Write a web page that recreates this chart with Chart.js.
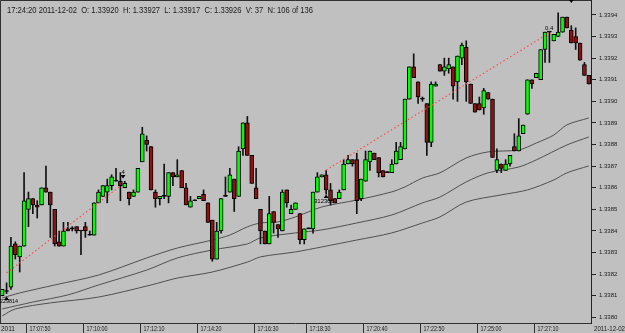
<!DOCTYPE html>
<html>
<head>
<meta charset="utf-8">
<script src="https://cdn.jsdelivr.net/npm/chart.js@4.4.1/dist/chart.umd.min.js"></script>
<style>
  html, body { margin: 0; padding: 0; background: #c0c0c0; overflow: hidden; }
  canvas { display: block; }
</style>
</head>
<body>
<canvas id="price-chart" width="625" height="333"></canvas>
<script>
// 10 second bars, oldest first
var opens = [1.33810,1.33812,1.33814,1.33834,1.33828,1.33833,1.33850,1.33855,1.33852,1.33852,
  1.33860,1.33858,1.33850,1.33835,1.33833,1.33841,1.33841,1.33842,1.33840,1.33842,
  1.33838,1.33838,1.33853,1.33856,1.33858,1.33861,1.33863,1.33863,1.33860,1.33858,
  1.33856,1.33858,1.33872,1.33882,1.33879,1.33858,1.33855,1.33856,1.33856,1.33867,
  1.33865,1.33868,1.33860,1.33851,1.33854,1.33855,1.33857,1.33853,1.33845,1.33827,
  1.33840,1.33856,1.33858,1.33864,1.33856,1.33878,1.33890,1.33875,1.33860,1.33850,
  1.33840,1.33834,1.33849,1.33843,1.33840,1.33859,1.33848,1.33850,1.33848,1.33836,
  1.33841,1.33841,1.33858,1.33865,1.33866,1.33859,1.33855,1.33855,1.33859,1.33871,
  1.33873,1.33873,1.33855,1.33863,1.33872,1.33876,1.33874,1.33868,1.33867,1.33867,
  1.33871,1.33873,1.33878,1.33901,1.33916,1.33909,1.33901,1.33899,1.33881,1.33907,
  1.33917,1.33914,1.33915,1.33916,1.33909,1.33920,1.33925,1.33908,1.33899,1.33899,
  1.33897,1.33904,1.33901,1.33868,1.33871,1.33868,1.33871,1.33879,1.33877,1.33885,
  1.33894,1.33910,1.33911,1.33910,1.33924,1.33932,1.33928,1.33930,1.33932,1.33939,
  1.33933,1.33930,1.33927,1.33917,1.33912];
var highs = [1.33813,1.33816,1.33837,1.33835,1.33833,1.33867,1.33858,1.33855,1.33854,1.33860,
  1.33870,1.33858,1.33850,1.33840,1.33844,1.33844,1.33842,1.33842,1.33840,1.33844,
  1.33840,1.33853,1.33859,1.33861,1.33864,1.33866,1.33869,1.33867,1.33863,1.33858,
  1.33859,1.33869,1.33888,1.33884,1.33879,1.33859,1.33856,1.33871,1.33867,1.33867,
  1.33873,1.33868,1.33862,1.33856,1.33854,1.33856,1.33859,1.33853,1.33845,1.33844,
  1.33855,1.33865,1.33869,1.33864,1.33879,1.33890,1.33893,1.33875,1.33869,1.33850,
  1.33840,1.33856,1.33849,1.33843,1.33859,1.33859,1.33852,1.33853,1.33848,1.33841,
  1.33841,1.33858,1.33867,1.33866,1.33868,1.33862,1.33855,1.33859,1.33873,1.33875,
  1.33873,1.33876,1.33864,1.33877,1.33877,1.33876,1.33874,1.33868,1.33867,1.33873,
  1.33881,1.33881,1.33901,1.33916,1.33922,1.33909,1.33902,1.33899,1.33909,1.33909,
  1.33917,1.33920,1.33920,1.33916,1.33921,1.33927,1.33928,1.33908,1.33899,1.33902,
  1.33906,1.33904,1.33901,1.33878,1.33871,1.33873,1.33875,1.33885,1.33892,1.33889,
  1.33910,1.33910,1.33913,1.33924,1.33932,1.33932,1.33931,1.33941,1.33939,1.33939,
  1.33935,1.33934,1.33927,1.33918,1.33912];
var lows = [1.33810,1.33811,1.33813,1.33827,1.33821,1.33833,1.33842,1.33848,1.33846,1.33852,
  1.33858,1.33837,1.33833,1.33833,1.33833,1.33840,1.33840,1.33839,1.33829,1.33837,
  1.33838,1.33838,1.33853,1.33856,1.33853,1.33859,1.33863,1.33854,1.33860,1.33852,
  1.33856,1.33858,1.33872,1.33877,1.33859,1.33851,1.33852,1.33855,1.33853,1.33861,
  1.33865,1.33860,1.33852,1.33851,1.33854,1.33855,1.33854,1.33844,1.33826,1.33827,
  1.33839,1.33856,1.33858,1.33849,1.33856,1.33875,1.33875,1.33862,1.33855,1.33834,
  1.33834,1.33834,1.33839,1.33837,1.33840,1.33851,1.33848,1.33850,1.33834,1.33834,
  1.33841,1.33839,1.33858,1.33865,1.33857,1.33852,1.33853,1.33855,1.33859,1.33871,
  1.33870,1.33848,1.33854,1.33863,1.33868,1.33873,1.33865,1.33865,1.33867,1.33867,
  1.33871,1.33873,1.33878,1.33901,1.33911,1.33899,1.33900,1.33875,1.33879,1.33907,
  1.33914,1.33912,1.33913,1.33901,1.33900,1.33917,1.33900,1.33899,1.33895,1.33896,
  1.33894,1.33901,1.33874,1.33867,1.33867,1.33868,1.33870,1.33877,1.33877,1.33885,
  1.33894,1.33906,1.33911,1.33910,1.33918,1.33918,1.33928,1.33930,1.33932,1.33934,
  1.33927,1.33924,1.33919,1.33912,1.33908];
var closes = [1.33813,1.33812,1.33833,1.33829,1.33833,1.33854,1.33855,1.33852,1.33851,1.33860,
  1.33858,1.33852,1.33834,1.33833,1.33840,1.33840,1.33841,1.33840,1.33840,1.33840,
  1.33838,1.33853,1.33858,1.33861,1.33861,1.33865,1.33863,1.33861,1.33862,1.33855,
  1.33858,1.33869,1.33885,1.33880,1.33859,1.33855,1.33856,1.33856,1.33867,1.33865,
  1.33866,1.33860,1.33852,1.33854,1.33854,1.33856,1.33854,1.33844,1.33827,1.33840,
  1.33855,1.33856,1.33866,1.33855,1.33877,1.33890,1.33875,1.33862,1.33855,1.33840,
  1.33834,1.33848,1.33844,1.33841,1.33858,1.33853,1.33850,1.33853,1.33836,1.33841,
  1.33841,1.33858,1.33865,1.33866,1.33859,1.33854,1.33853,1.33858,1.33871,1.33873,
  1.33871,1.33854,1.33864,1.33873,1.33877,1.33873,1.33867,1.33865,1.33867,1.33871,
  1.33877,1.33879,1.33901,1.33916,1.33911,1.33902,1.33901,1.33881,1.33908,1.33908,
  1.33914,1.33916,1.33917,1.33907,1.33921,1.33926,1.33909,1.33899,1.33895,1.33896,
  1.33905,1.33901,1.33874,1.33873,1.33869,1.33871,1.33875,1.33877,1.33884,1.33889,
  1.33910,1.33908,1.33913,1.33924,1.33932,1.33932,1.33931,1.33932,1.33939,1.33934,
  1.33927,1.33927,1.33919,1.33912,1.33908];

// moving averages, read at a few bars and joined by the library
var maUpperBars = [0,4,12,22,33,40,48,52,56,59,63,67,73,81,89,92,96,100,106,111,118,122,126,129,134];
var maUpper = [1.338090,1.338113,1.338150,1.338196,1.338275,1.338321,1.338358,1.338381,1.338419,1.338437,
  1.338442,1.338465,1.338511,1.338543,1.338581,1.338604,1.338645,1.338669,1.338738,1.338766,
  1.338775,1.338807,1.338844,1.338891,1.338923];
var maMiddleBars = [0,7,15,22,33,40,48,56,59,67,73,81,89,96,100,106,111,118,122,129,134];
var maMiddle = [1.338039,1.338071,1.338104,1.338150,1.338219,1.338275,1.338312,1.338340,1.338368,1.338391,
  1.338405,1.338437,1.338474,1.338530,1.338557,1.338627,1.338669,1.338696,1.338729,1.338798,1.338835];
var maLowerBars = [0,3,11,22,34,40,48,56,59,67,73,81,89,96,100,106,114,120,126,129,134];
var maLower = [1.338007,1.338039,1.338067,1.338094,1.338150,1.338182,1.338210,1.338256,1.338280,1.338303,
  1.338326,1.338358,1.338391,1.338437,1.338465,1.338534,1.338567,1.338590,1.338636,1.338669,1.338701];

// dotted red trend segments
var trend1Bars = [1, 27];
var trend1 = [1.338206, 1.338608];
var trend2Bars = [74, 125];
var trend2 = [1.338682, 1.339317];

var timeLabels = ['17:07:50','17:10:00','17:12:10','17:14:20','17:16:30','17:18:30','17:20:40','17:22:50','17:25:00','17:27:10'];
var timeLabelBars = [6, 19, 32, 45, 58, 70, 83, 96, 109, 122];
var priceTicks = [1.3380,1.3381,1.3382,1.3383,1.3384,1.3385,1.3386,1.3387,1.3388,1.3389,1.3390,1.3391,1.3392,1.3393,1.3394];

var headerText = '17:24:20 2011-12-02  O: 1.33920  H: 1.33927  L: 1.33917  C: 1.33926  V: 37  N: 106 of 136';

var FONT = '"Liberation Sans", Arial, sans-serif';

function points(bars, values) {
  return bars.map(function(b, i) { return {x: b, y: values[i]}; });
}

var wickData = highs.map(function(h, i) { return {x: i, y: [lows[i], h]}; });
var bodyData = opens.map(function(o, i) { return {x: i, y: [o, closes[i]]}; });
var bodyColors = opens.map(function(o, i) {
  if (closes[i] > o) return '#00ff00';
  if (closes[i] < o) return '#8e1212';
  return '#000000';
});

var chartBackground = {
  id: 'chartBackground',
  beforeDraw: function(chart) {
    var ctx = chart.ctx;
    ctx.save();
    ctx.fillStyle = '#c0c0c0';
    ctx.fillRect(0, 0, chart.width, chart.height);
    ctx.restore();
  }
};

function smallTri(ctx, x, y, up) {
  ctx.beginPath();
  if (up) { ctx.moveTo(x - 2.5, y + 2); ctx.lineTo(x + 2.5, y + 2); ctx.lineTo(x, y - 1.5); }
  else { ctx.moveTo(x - 2.5, y - 2); ctx.lineTo(x + 2.5, y - 2); ctx.lineTo(x, y + 1.5); }
  ctx.closePath();
  ctx.fill();
}

var chartDecor = {
  id: 'chartDecor',
  afterDraw: function(chart) {
    var ctx = chart.ctx, area = chart.chartArea;
    var xs = chart.scales.x, ys = chart.scales.y;
    ctx.save();

    // frame of the plot
    ctx.strokeStyle = '#303030';
    ctx.lineWidth = 1;
    ctx.beginPath();
    ctx.moveTo(0.5, area.bottom);
    ctx.lineTo(0.5, 0.5);
    ctx.lineTo(area.right, 0.5);
    ctx.moveTo(0, Math.round(area.bottom) + 0.5);
    ctx.lineTo(area.right, Math.round(area.bottom) + 0.5);
    ctx.stroke();

    // time strip at the bottom
    ctx.fillStyle = '#1a1a1a';
    ctx.font = '6.5px ' + FONT;
    ctx.textBaseline = 'alphabetic';
    ctx.fillText('2011', 1, chart.height - 2, 14);
    ctx.beginPath();
    timeLabels.forEach(function(t, i) {
      var x = Math.round(xs.getPixelForValue(timeLabelBars[i] - 0.5)) + 0.5;
      ctx.moveTo(x, area.bottom);
      ctx.lineTo(x, chart.height);
      ctx.fillText(t, x + 3, chart.height - 2, 21);
    });
    ctx.stroke();
    ctx.fillText('2011-12-02', area.right + 3, chart.height - 2, 31);

    // header line
    ctx.font = '8.5px ' + FONT;
    ctx.fillText(headerText, 7, 13, 306);

    // small markers and labels on the chart
    ctx.fillStyle = '#000';
    ctx.font = '6px ' + FONT;
    smallTri(ctx, xs.getPixelForValue(1), ys.getPixelForValue(1.33809), true);
    ctx.fillText('229814', 0, 303, 18);
    ctx.fillText('4', xs.getPixelForValue(27.6) - 1.5, 174);
    smallTri(ctx, xs.getPixelForValue(27.6), 177, false);
    smallTri(ctx, xs.getPixelForValue(74), 196, true);
    ctx.fillText('312309', 314, 203, 24);
    ctx.fillText('0.4', 545, 30, 10);
    smallTri(ctx, xs.getPixelForValue(130), 1.5, false);

    ctx.restore();
  }
};

new Chart(document.getElementById('price-chart'), {
  type: 'bar',
  data: {
    datasets: [
      { label: 'trend1', type: 'line', data: points(trend1Bars, trend1), borderColor: '#ff4a4a',
        borderWidth: 1.2, borderDash: [1.5, 2.5], pointRadius: 0, order: -1 },
      { label: 'trend2', type: 'line', data: points(trend2Bars, trend2), borderColor: '#ff4a4a',
        borderWidth: 1.2, borderDash: [1.5, 2.5], pointRadius: 0, order: -1 },
      { label: 'bodies', data: bodyData, backgroundColor: bodyColors, borderColor: '#000',
        borderWidth: 1, borderSkipped: false, barThickness: 4, minBarLength: 1, grouped: false, order: 0 },
      { label: 'wicks', data: wickData, backgroundColor: '#111', borderWidth: 0,
        barThickness: 1, minBarLength: 1, grouped: false, order: 1 },
      { label: 'ma1', type: 'line', data: points(maUpperBars, maUpper), borderColor: '#505050',
        borderWidth: 1, pointRadius: 0, tension: 0.3, order: 3 },
      { label: 'ma2', type: 'line', data: points(maMiddleBars, maMiddle), borderColor: '#505050',
        borderWidth: 1, pointRadius: 0, tension: 0.3, order: 3 },
      { label: 'ma3', type: 'line', data: points(maLowerBars, maLower), borderColor: '#505050',
        borderWidth: 1, pointRadius: 0, tension: 0.3, order: 3 }
    ]
  },
  options: {
    responsive: false,
    animation: false,
    devicePixelRatio: 1,
    layout: { padding: { left: 0, right: 0, top: 0, bottom: 10 } },
    plugins: { legend: { display: false }, tooltip: { enabled: false } },
    scales: {
      x: { type: 'linear', min: -0.5, max: 134.5, offset: false, display: false },
      y: {
        position: 'right',
        min: 1.337974,
        max: 1.339469,
        afterBuildTicks: function(s) {
          s.ticks = priceTicks.map(function(v) { return {value: v}; });
        },
        afterFit: function(s) {
          s.width = 34;
          s.paddingTop = 0;
          s.paddingBottom = 0;
        },
        ticks: {
          autoSkip: false,
          padding: 3,
          color: '#1a1a1a',
          font: { size: 6, family: FONT },
          callback: function(v) { return Number(v).toFixed(4); }
        },
        grid: { drawOnChartArea: false, drawTicks: true, tickLength: 5, color: '#222' },
        border: { display: true, color: '#222' }
      }
    }
  },
  plugins: [chartBackground, chartDecor]
});
</script>
</body>
</html>
